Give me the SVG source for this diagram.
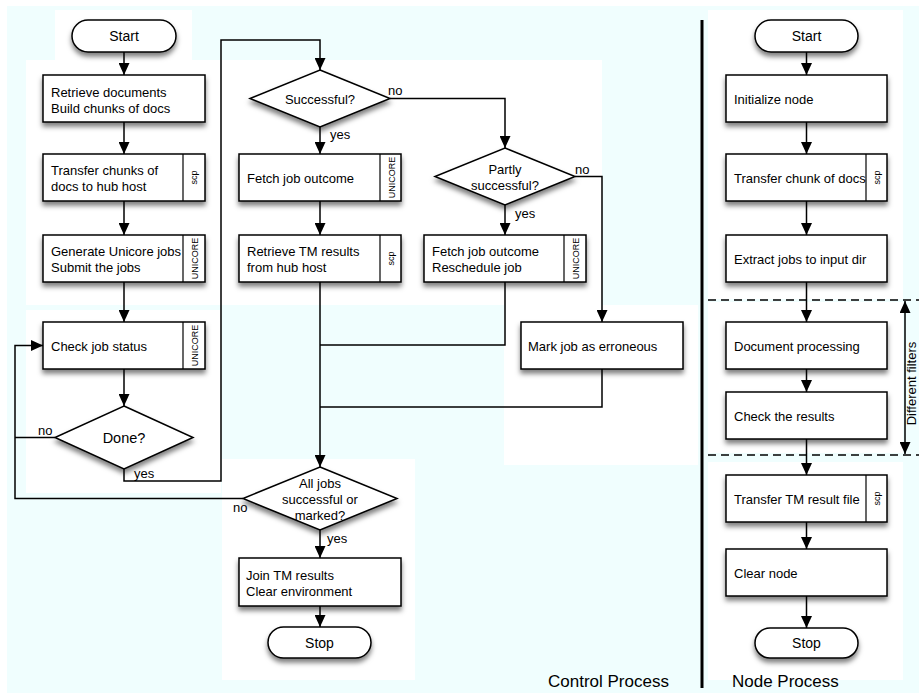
<svg xmlns="http://www.w3.org/2000/svg" width="919" height="693" viewBox="0 0 919 693">
<style>
.bx{fill:#fff;stroke:#000;stroke-width:1.5;filter:url(#sh)}
.dv{fill:none;stroke:#000;stroke-width:1.2}
.t{font-family:"Liberation Sans",Arial,sans-serif;font-size:13px;fill:#000}
.c{text-anchor:middle}
.s{font-family:"Liberation Sans",Arial,sans-serif;font-size:9px;fill:#000;text-anchor:middle}
.big{font-family:"Liberation Sans",Arial,sans-serif;font-size:17px;fill:#000}
.ln{fill:none;stroke:#000;stroke-width:1.5}
.ar{marker-end:url(#ah)}
.dash{fill:none;stroke:#000;stroke-width:1.5;stroke-dasharray:8 5}
.wb{fill:#fff}
</style>
<defs>
<filter id="sh" x="-20%" y="-20%" width="140%" height="160%">
<feDropShadow dx="0" dy="4" stdDeviation="2.5" flood-color="#000" flood-opacity="0.5"/>
</filter>
<marker id="ah" markerUnits="userSpaceOnUse" markerWidth="12" markerHeight="11" viewBox="0 0 12 11" refX="12" refY="5.5" orient="auto">
<path d="M0,0 L12,5.5 L0,11 z" fill="#000"/>
</marker>
<marker id="as" markerUnits="userSpaceOnUse" markerWidth="12" markerHeight="11" viewBox="0 0 12 11" refX="0" refY="5.5" orient="auto">
<path d="M12,0 L0,5.5 L12,11 z" fill="#000"/>
</marker>
</defs>
<g id="background">
<rect x="0" y="0" width="919" height="693" fill="#fff"/>
<rect x="7" y="6" width="912" height="687" fill="#f0fefe"/>
<rect class="wb" x="55" y="10" width="137" height="50"/>
<rect class="wb" x="26" y="60" width="576" height="245"/>
<rect class="wb" x="26" y="310" width="195" height="183"/>
<rect class="wb" x="504" y="305" width="194" height="160"/>
<rect class="wb" x="222" y="459" width="193" height="221"/>
<rect class="wb" x="708" y="10" width="195" height="289"/>
<rect class="wb" x="708" y="302" width="195" height="151"/>
<rect class="wb" x="708" y="462" width="195" height="218"/>
</g>
<g id="connectors">
<line class="ln ar" x1="124" y1="52" x2="124" y2="75"/>
<line class="ln ar" x1="124" y1="122" x2="124" y2="154"/>
<line class="ln ar" x1="124" y1="201" x2="124" y2="235"/>
<line class="ln ar" x1="124" y1="282" x2="124" y2="322"/>
<line class="ln ar" x1="124" y1="369" x2="124" y2="406"/>
<path class="ln" d="M55,437.5 H15"/>
<path class="ln ar" d="M243,498.5 H15 V345.5 H43"/>
<path class="ln ar" d="M124,469 V481 H221 V40 H320 V70"/>
<line class="ln ar" x1="320" y1="127" x2="320" y2="154"/>
<path class="ln ar" d="M390,98.5 H505 V148"/>
<line class="ln ar" x1="320" y1="201" x2="320" y2="235"/>
<path class="ln ar" d="M320,282 V467"/>
<line class="ln ar" x1="505" y1="205" x2="505" y2="235"/>
<path class="ln ar" d="M575,176.5 H602 V322"/>
<path class="ln" d="M505,282 V345 H320"/>
<path class="ln" d="M602,369 V407 H320"/>
<line class="ln ar" x1="320" y1="530" x2="320" y2="558"/>
<line class="ln ar" x1="320" y1="606" x2="320" y2="627"/>
<line class="ln ar" x1="806.5" y1="52" x2="806.5" y2="75"/>
<line class="ln ar" x1="806.5" y1="122" x2="806.5" y2="154"/>
<line class="ln ar" x1="806.5" y1="201" x2="806.5" y2="235"/>
<line class="ln ar" x1="806.5" y1="282" x2="806.5" y2="322"/>
<line class="ln ar" x1="806.5" y1="369" x2="806.5" y2="392"/>
<line class="ln ar" x1="806.5" y1="439" x2="806.5" y2="475"/>
<line class="ln ar" x1="806.5" y1="522" x2="806.5" y2="549"/>
<line class="ln ar" x1="806.5" y1="596" x2="806.5" y2="628"/>
<text class="t" x="38" y="435">no</text>
<text class="t" x="134" y="478">yes</text>
<text class="t" x="388" y="95">no</text>
<text class="t" x="330" y="139">yes</text>
<text class="t" x="575" y="174">no</text>
<text class="t" x="515" y="218">yes</text>
<text class="t" x="233" y="512">no</text>
<text class="t" x="327" y="543">yes</text>
</g>
<g id="n_start1">
<rect class="bx" x="72" y="20" width="104" height="32" rx="16"/>
<text class="t c" x="124" y="41" style="font-size:14px">Start</text>
</g>
<g id="n_retrieve">
<rect class="bx" x="43" y="75" width="162" height="47"/>
<text class="t" x="51" y="97">Retrieve documents</text>
<text class="t" x="51" y="112.5">Build chunks of docs</text>
</g>
<g id="n_transfer">
<rect class="bx" x="43" y="154" width="162" height="47"/>
<line class="dv" x1="183" y1="154" x2="183" y2="201"/>
<text class="t" x="51" y="175">Transfer chunks of</text>
<text class="t" x="51" y="191">docs to hub host</text>
<text class="s" transform="translate(196.5,177.5) rotate(-90)">scp</text>
</g>
<g id="n_generate">
<rect class="bx" x="43" y="235" width="162" height="47"/>
<line class="dv" x1="183" y1="235" x2="183" y2="282"/>
<text class="t" x="51" y="256">Generate Unicore jobs</text>
<text class="t" x="51" y="272">Submit the jobs</text>
<text class="s" transform="translate(197.5,258.5) rotate(-90)">UNICORE</text>
</g>
<g id="n_check">
<rect class="bx" x="43" y="322" width="162" height="47"/>
<line class="dv" x1="183" y1="322" x2="183" y2="369"/>
<text class="t" x="51" y="350.5">Check job status</text>
<text class="s" transform="translate(197.5,345.5) rotate(-90)">UNICORE</text>
</g>
<g id="n_done">
<polygon class="bx" points="124,406 193,437.5 124,469 55,437.5"/>
<text class="t c" x="124" y="443" style="font-size:14.5px">Done?</text>
</g>
<g id="n_successful">
<polygon class="bx" points="320,70 390,98.5 320,127 250,98.5"/>
<text class="t c" x="320" y="103.5">Successful?</text>
</g>
<g id="n_fetch1">
<rect class="bx" x="239" y="154" width="162" height="47"/>
<line class="dv" x1="380" y1="154" x2="380" y2="201"/>
<text class="t" x="247" y="182.5">Fetch job outcome</text>
<text class="s" transform="translate(394.5,177.5) rotate(-90)">UNICORE</text>
</g>
<g id="n_retrievetm">
<rect class="bx" x="239" y="235" width="162" height="47"/>
<line class="dv" x1="380" y1="235" x2="380" y2="282"/>
<text class="t" x="247" y="256">Retrieve TM results</text>
<text class="t" x="247" y="272">from hub host</text>
<text class="s" transform="translate(393.5,258.5) rotate(-90)">scp</text>
</g>
<g id="n_partly">
<polygon class="bx" points="505,148 575,176.5 505,205 435,176.5"/>
<text class="t c" x="505" y="174">Partly</text>
<text class="t c" x="505" y="190">successful?</text>
</g>
<g id="n_fetch2">
<rect class="bx" x="424" y="235" width="162" height="47"/>
<line class="dv" x1="564" y1="235" x2="564" y2="282"/>
<text class="t" x="432" y="256">Fetch job outcome</text>
<text class="t" x="432" y="272">Reschedule job</text>
<text class="s" transform="translate(578.5,258.5) rotate(-90)">UNICORE</text>
</g>
<g id="n_mark">
<rect class="bx" x="521" y="322" width="162" height="47"/>
<text class="t" x="528" y="350.5">Mark job as erroneous</text>
</g>
<g id="n_alljobs">
<polygon class="bx" points="320,467 397,498.5 320,530 243,498.5"/>
<text class="t c" x="320" y="488">All jobs</text>
<text class="t c" x="320" y="504">successful or</text>
<text class="t c" x="320" y="520">marked?</text>
</g>
<g id="n_join">
<rect class="bx" x="239" y="558" width="162" height="48"/>
<text class="t" x="246" y="579.5">Join TM results</text>
<text class="t" x="246" y="595.5">Clear environment</text>
</g>
<g id="n_stop1">
<rect class="bx" x="268" y="627" width="103" height="31" rx="15.5"/>
<text class="t c" x="319.5" y="648" style="font-size:14px">Stop</text>
</g>
<g id="separator">
<line x1="702" y1="20" x2="702" y2="688" stroke="#000" stroke-width="3"/>
<line class="dash" x1="708" y1="300" x2="919" y2="300"/>
<line class="dash" x1="708" y1="455" x2="919" y2="455"/>
<line class="ln" x1="905" y1="301" x2="905" y2="454" marker-start="url(#as)" marker-end="url(#ah)"/>
<text class="t c" transform="translate(915.5,383.5) rotate(-90)" style="font-size:13px">Different filters</text>
</g>
<g id="n_start2">
<rect class="bx" x="755" y="20" width="103" height="32" rx="16"/>
<text class="t c" x="806.5" y="41" style="font-size:14px">Start</text>
</g>
<g id="n_init">
<rect class="bx" x="726" y="75" width="161" height="47"/>
<text class="t" x="734" y="103.5">Initialize node</text>
</g>
<g id="n_trchunk">
<rect class="bx" x="726" y="154" width="161" height="47"/>
<line class="dv" x1="866" y1="154" x2="866" y2="201"/>
<text class="t" x="734" y="182.5">Transfer chunk of docs</text>
<text class="s" transform="translate(879.5,177.5) rotate(-90)">scp</text>
</g>
<g id="n_extract">
<rect class="bx" x="726" y="235" width="161" height="47"/>
<text class="t" x="734" y="263.5">Extract jobs to input dir</text>
</g>
<g id="n_docproc">
<rect class="bx" x="726" y="322" width="161" height="47"/>
<text class="t" x="734" y="350.5">Document processing</text>
</g>
<g id="n_check2">
<rect class="bx" x="726" y="392" width="161" height="47"/>
<text class="t" x="734" y="420.5">Check the results</text>
</g>
<g id="n_trtm">
<rect class="bx" x="726" y="475" width="161" height="47"/>
<line class="dv" x1="866" y1="475" x2="866" y2="522"/>
<text class="t" x="734" y="503.5">Transfer TM result file</text>
<text class="s" transform="translate(879.5,498.5) rotate(-90)">scp</text>
</g>
<g id="n_clear">
<rect class="bx" x="726" y="549" width="161" height="47"/>
<text class="t" x="734" y="577.5">Clear node</text>
</g>
<g id="n_stop2">
<rect class="bx" x="755" y="628" width="103" height="30" rx="15"/>
<text class="t c" x="806.5" y="648" style="font-size:14px">Stop</text>
</g>
<g id="labels">
<text class="big" x="548" y="687">Control Process</text>
<text class="big" x="732" y="687">Node Process</text>
</g>
</svg>
